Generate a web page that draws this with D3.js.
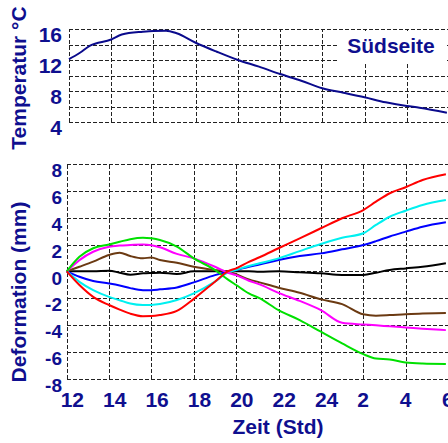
<!DOCTYPE html>
<html>
<head>
<meta charset="utf-8">
<script src="https://cdn.jsdelivr.net/npm/d3@7"></script>
<style>
  body { margin: 0; background: #fff; }
  svg { display: block; }
  text { font-family: "Liberation Sans", Arial, sans-serif; font-weight: bold; fill: #0f0f8f; }
</style>
</head>
<body>
<svg id="chart" width="448" height="443"></svg>
<script>
// time in hours, values > 24 are next morning
var tempHours = [12, 12.5, 13, 14, 14.5, 15.5, 16, 16.6, 17.1, 18, 19, 20, 21, 22, 23, 24, 25, 26, 27, 28, 28.6, 29.9];
var tempValues = [12.1, 12.9, 13.85, 14.65, 15.3, 15.65, 15.75, 15.78, 15.45, 14.23, 13.07, 12.0, 11.14, 10.19, 9.33, 8.35, 7.78, 7.19, 6.54, 6.06, 5.85, 5.2];

var defHours = [12, 12.6, 13.25, 14, 14.5, 15, 15.6, 16, 16.4, 17.2, 18, 19, 19.6, 20, 20.6, 21.1, 22, 23, 24, 25, 26, 26.6, 27.25, 28, 28.8, 29.9];
var redValues     = [0, -1.02, -1.9, -2.51, -2.85, -3.15, -3.34, -3.33, -3.26, -2.95, -2.05, -0.77, 0, 0.22, 0.7, 1.05, 1.72, 2.46, 3.21, 3.96, 4.57, 5.19, 5.82, 6.27, 6.81, 7.24];
var cyanValues    = [0, -0.78, -1.4, -1.9, -2.15, -2.4, -2.51, -2.5, -2.44, -2.14, -1.64, -0.77, -0.1, 0.1, 0.4, 0.6, 0.97, 1.51, 2.04, 2.51, 2.84, 3.46, 4.07, 4.52, 4.95, 5.32];
var blueValues    = [0, -0.4, -0.72, -0.9, -1.05, -1.25, -1.4, -1.4, -1.34, -1.2, -0.82, -0.28, -0.03, 0.1, 0.34, 0.5, 0.84, 1.14, 1.34, 1.64, 1.96, 2.25, 2.6, 2.96, 3.33, 3.66];
var blackValues   = [0, 0, 0, 0.05, -0.1, -0.25, -0.15, -0.12, -0.1, -0.2, 0, 0, 0, 0, 0, -0.03, 0, -0.07, -0.15, -0.27, -0.27, -0.1, 0.1, 0.22, 0.34, 0.6];
var brownValues   = [0, 0.34, 0.72, 1.22, 1.39, 1.14, 0.97, 1.04, 0.84, 0.64, 0.34, 0.1, 0, -0.22, -0.6, -0.82, -1.22, -1.6, -2.09, -2.44, -3.2, -3.3, -3.26, -3.19, -3.15, -3.11];
var magentaValues = [0, 0.84, 1.46, 1.84, 1.92, 1.96, 2.0, 1.95, 1.79, 1.3, 0.97, 0.34, -0.1, -0.28, -0.7, -0.97, -1.6, -2.2, -2.89, -3.83, -3.96, -4.02, -4.1, -4.18, -4.27, -4.38];
var greenValues   = [0, 1.09, 1.72, 2.0, 2.2, 2.4, 2.51, 2.46, 2.34, 1.85, 0.97, 0.1, -0.6, -1.02, -1.64, -2.0, -2.89, -3.63, -4.5, -5.37, -6.17, -6.5, -6.57, -6.79, -6.87, -6.9];

var series = [
    {values: blackValues,   color: "#000000"},
    {values: brownValues,   color: "#6b3a12"},
    {values: blueValues,    color: "#0000ff"},
    {values: cyanValues,    color: "#00f0f0"},
    {values: magentaValues, color: "#ff00ff"},
    {values: greenValues,   color: "#00e000"},
    {values: redValues,     color: "#ff0000"}
];

var hourTicks = [12, 14, 16, 18, 20, 22, 24, 26, 28, 30];
var tempGrid = [4, 6, 8, 10, 12, 14, 16];
var tempLabels = [4, 8, 12, 16];
var defTicks = [-8, -6, -4, -2, 0, 2, 4, 6, 8];

var svg = d3.select("#chart");

// scales (top: temperature, bottom: deformation)
var xTop = d3.scaleLinear().domain([12, 30]).range([69, 449]);
var yTop = d3.scaleLinear().domain([4, 16]).range([122, 29]);
var xBot = d3.scaleLinear().domain([12, 30]).range([66.7, 448]);
var yBot = d3.scaleLinear().domain([-8, 8]).range([378.7, 164]);

function px(v) { return Math.round(v) + 0.5; }

function grid(g, xs, ys, xTicks, yTicks) {
    var x0 = xs.range()[0], x1 = xs.range()[1];
    var y0 = ys.range()[0], y1 = ys.range()[1];
    g.selectAll(".h").data(yTicks).enter().append("line")
        .attr("x1", x0).attr("x2", x1)
        .attr("y1", d => px(ys(d))).attr("y2", d => px(ys(d)));
    g.selectAll(".v").data(xTicks).enter().append("line")
        .attr("x1", d => px(xs(d))).attr("x2", d => px(xs(d)))
        .attr("y1", y0).attr("y2", y1);
    g.selectAll("line")
        .attr("stroke", "#222")
        .attr("stroke-width", 1)
        .attr("stroke-dasharray", "4,2")
        .attr("shape-rendering", "crispEdges");
}

// top panel
var topG = svg.append("g");
grid(topG, xTop, yTop, hourTicks, tempGrid);

var tempLine = d3.line()
    .x((d, i) => xTop(tempHours[i]))
    .y(d => yTop(d))
    .curve(d3.curveMonotoneX);

topG.append("path")
    .datum(tempValues)
    .attr("d", tempLine)
    .attr("fill", "none")
    .attr("stroke", "#0a0a8c")
    .attr("stroke-width", 2);

// white box behind the label
topG.append("rect")
    .attr("x", 337).attr("y", 31)
    .attr("width", 108).attr("height", 31)
    .attr("fill", "#fff");

topG.append("text")
    .attr("x", 391).attr("y", 53)
    .attr("text-anchor", "middle")
    .style("font-size", "21px")
    .text("Südseite");

topG.selectAll(".tl").data(tempLabels).enter().append("text")
    .attr("x", 62)
    .attr("y", d => yTop(d) + 13)
    .attr("text-anchor", "end")
    .style("font-size", "21px")
    .text(d => d);

// bottom panel
var botG = svg.append("g");
grid(botG, xBot, yBot, hourTicks, defTicks);

var defLine = d3.line()
    .x((d, i) => xBot(defHours[i]))
    .y(d => yBot(d))
    .curve(d3.curveMonotoneX);

botG.selectAll(".series").data(series).enter().append("path")
    .attr("d", d => defLine(d.values))
    .attr("fill", "none")
    .attr("stroke", d => d.color)
    .attr("stroke-width", 2);

botG.selectAll(".dl").data(defTicks).enter().append("text")
    .attr("x", 62)
    .attr("y", d => yBot(d) + 13.3)
    .attr("text-anchor", "end")
    .style("font-size", "19px")
    .text(d => d);

botG.selectAll(".xl").data(hourTicks).enter().append("text")
    .attr("x", d => xBot(d) - 6)
    .attr("y", 407)
    .attr("text-anchor", "start")
    .style("font-size", "21px")
    .text(d => d > 24 ? d - 24 : d);

// axis titles
svg.append("text")
    .attr("x", 278).attr("y", 434)
    .attr("text-anchor", "middle")
    .style("font-size", "21px")
    .text("Zeit (Std)");

svg.append("text")
    .attr("transform", "translate(26,78)rotate(-90)")
    .attr("text-anchor", "middle")
    .style("font-size", "21px")
    .text("Temperatur °C");

svg.append("text")
    .attr("transform", "translate(26,292)rotate(-90)")
    .attr("text-anchor", "middle")
    .style("font-size", "21px")
    .text("Deformation (mm)");
</script>
</body>
</html>
